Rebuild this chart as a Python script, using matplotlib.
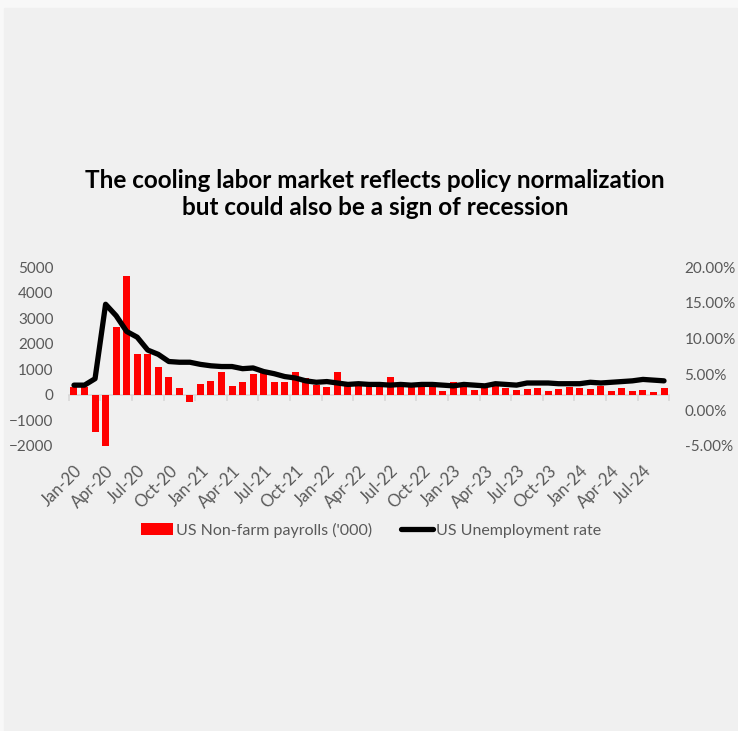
import numpy as np
import pandas as pd
from matplotlib import pyplot as plt
from matplotlib.patches import Rectangle

# US non-farm payrolls, monthly change ('000), Jan-20 .. Sep-24
payrolls = [300, 290, -1450, -2000, 2670, 4650, 1600, 1580, 1080, 715, 285, -270,
            430, 550, 890, 350, 500, 820, 850, 500, 520, 880, 650, 390,
            290, 890, 400, 380, 380, 370, 710, 320, 320, 290, 290, 160,
            510, 330, 180, 290, 340, 260, 195, 235, 260, 170, 210, 300,
            275, 235, 350, 145, 250, 145, 180, 115, 250]

# US unemployment rate (%)
unemployment = [3.5, 3.5, 4.4, 14.8, 13.2, 11.0, 10.2, 8.4, 7.8, 6.8, 6.7, 6.7,
                6.4, 6.2, 6.1, 6.1, 5.8, 5.9, 5.4, 5.1, 4.7, 4.5, 4.1, 3.9,
                4.0, 3.8, 3.6, 3.7, 3.6, 3.6, 3.5, 3.6, 3.5, 3.6, 3.6, 3.5,
                3.4, 3.6, 3.5, 3.4, 3.7, 3.6, 3.5, 3.8, 3.8, 3.8, 3.7, 3.7,
                3.7, 3.9, 3.8, 3.9, 4.0, 4.1, 4.3, 4.2, 4.1]

months = pd.date_range("2020-01-01", periods=len(payrolls), freq="MS").strftime("%b-%y").tolist()

left_ticks = [-2000, -1000, 0, 1000, 2000, 3000, 4000, 5000]
right_ticks = [-5, 0, 5, 10, 15, 20]

title = "The cooling labor market reflects policy normalization\nbut could also be a sign of recession"

plt.rcParams['font.family'] = ['Lato', 'DejaVu Sans']
grey = '#595959'

fig = plt.figure(figsize=(7.38, 7.31), dpi=100, facecolor='#f8f8f8')
fig.patches.append(Rectangle((4 / 738, 0), 733 / 738, 723 / 731,
                             transform=fig.transFigure, color='#f0f0f0', zorder=-10))

ax = fig.add_axes([0.0931, 0.3899, 0.8138, 0.2448])
ax.set_facecolor('none')
x = np.arange(len(months))

bars = ax.bar(x, payrolls, width=0.66, color='#ff0000', zorder=2,
              label="US Non-farm payrolls ('000)")
ax.set_xlim(-0.5, len(months) - 0.5)
ax.set_ylim(-2000, 5000)
ax.set_yticks(left_ticks)
ax.set_xticks(x[::3])
ax.set_xticklabels(months[::3], rotation=45, ha='right', rotation_mode='anchor')
ax.tick_params(axis='x', length=0, pad=12, labelsize=12, labelcolor=grey)
ax.tick_params(axis='y', length=0, pad=11, labelsize=11, labelcolor=grey)
for s in ax.spines.values():
    s.set_visible(False)

# category axis line at zero with tick marks every 3 months
zero_axis = ax.secondary_xaxis(0, transform=ax.transData)
zero_axis.set_xticks(np.arange(-0.5, len(months), 3))
zero_axis.set_xticklabels([])
zero_axis.tick_params(axis='x', length=4, width=1.2, color='#d9d9d9')
zero_axis.spines['bottom'].set_color('#d9d9d9')
zero_axis.spines['bottom'].set_linewidth(1.2)

ax2 = ax.twinx()
line, = ax2.plot(x, unemployment, color='black', linewidth=3.8,
                 solid_capstyle='round', solid_joinstyle='round',
                 label='US Unemployment rate', zorder=3)
ax2.set_ylim(-5, 20)
ax2.set_yticks(right_ticks)
ax2.set_yticklabels([f"{v:.2f}%" for v in right_ticks])
ax2.tick_params(axis='y', length=0, pad=11, labelsize=11, labelcolor=grey)
for s in ax2.spines.values():
    s.set_visible(False)

fig.text(0.508, 0.735, title, ha='center', va='center', fontsize=17.5,
         fontweight='bold', linespacing=1.2, color='black')

fig.legend(handles=[bars, line], loc='center', bbox_to_anchor=(0.503, 0.275),
           ncol=2, frameon=False, fontsize=11.5, labelcolor=grey,
           handlelength=2.0, handletextpad=0.2, columnspacing=1.8)

plt.savefig('out.png', dpi=100, facecolor=fig.get_facecolor())
